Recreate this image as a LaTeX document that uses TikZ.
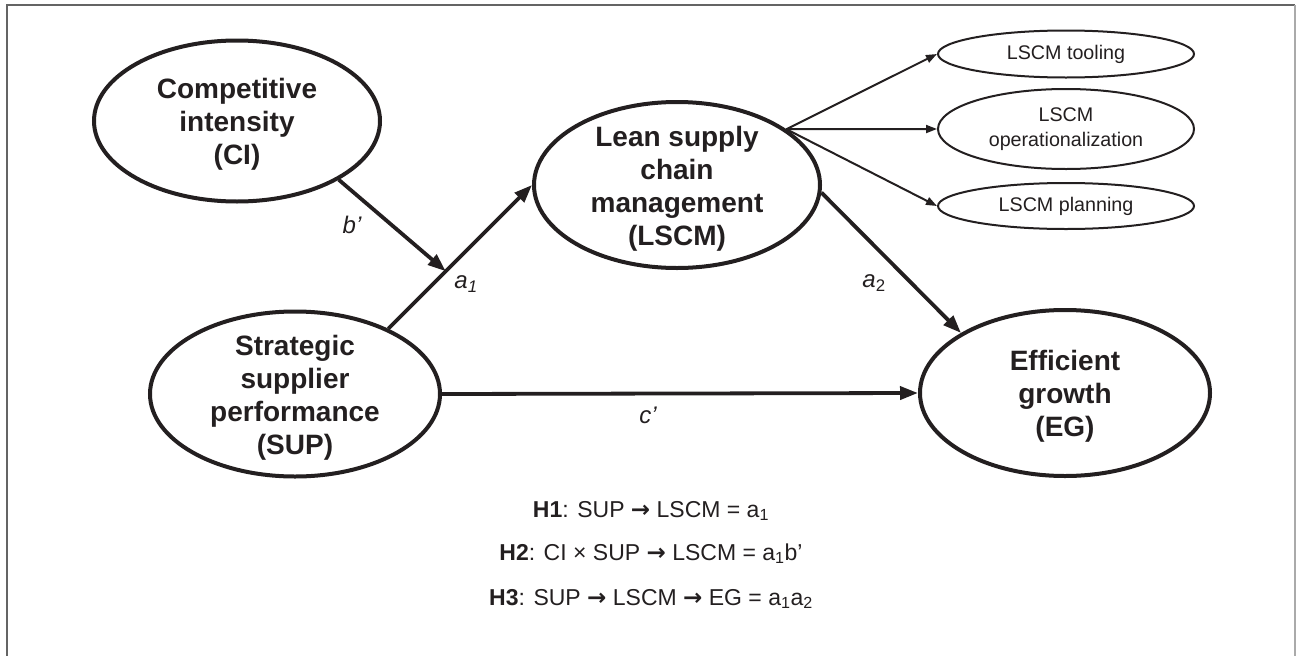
\documentclass[tikz,border=0pt]{standalone}
\usepackage{fontspec}
\setmainfont{Liberation Sans}
\newfontfamily\arrowfont{DejaVu Sans}
\newcommand{\harr}{{\arrowfont\bfseries →}}
\usetikzlibrary{shapes.geometric,arrows.meta}
\definecolor{ink}{RGB}{35,31,32}
\definecolor{framedark}{RGB}{100,100,100}
\definecolor{framelight}{RGB}{170,170,170}
\begin{document}
\begin{tikzpicture}[x=1pt,y=-1pt,
  big/.style={ellipse,draw=ink,line width=4pt,inner sep=0pt},
  bigtext/.style={align=center,text=ink,inner sep=0pt,font=\fontsize{28}{33}\selectfont\bfseries},
  small/.style={ellipse,draw=ink,line width=2pt,inner sep=0pt,minimum width=256pt,align=center,text=ink,font=\fontsize{19.7}{25}\selectfont},
  thickarrow/.style={draw=ink,line width=3.8pt,-{Triangle[length=18pt,width=13pt]}},
  thinarrow/.style={draw=ink,line width=2pt,-{Triangle[length=11pt,width=8pt]}},
  lbl/.style={text=ink,inner sep=0pt,font=\fontsize{24}{28}\selectfont\itshape},
  hyp/.style={anchor=base,text=ink,inner sep=0pt,font=\fontsize{23}{28}\selectfont}]
\useasboundingbox (0,0) rectangle (1296,656);
% frame
\draw[line width=2pt,framedark] (7,700) -- (7,5) -- (1295,5);
\draw[line width=1.5pt,framelight] (1295,5) -- (1295,700);

% main constructs
\node[big,minimum width=286pt,minimum height=161pt] (ci) at (237,121) {};
\node[bigtext] (ci-t) at (237,124) {Competitive\\intensity\\(CI)};
\node[big,minimum width=290pt,minimum height=165pt] (sup) at (295,394) {};
\node[bigtext] (sup-t) at (295,398) {Strategic\\supplier\\performance\\(SUP)};
\node[big,minimum width=286pt,minimum height=166pt] (lscm) at (677,185) {};
\node[bigtext] (lscm-t) at (677,189) {Lean supply\\chain\\management\\(LSCM)};
\node[big,minimum width=290pt,minimum height=166pt] (eg) at (1065,393) {};
\node[bigtext] (eg-t) at (1065,396) {Efficient\\growth\\(EG)};

% dimensions
\node[small,minimum height=47pt] (tool) at (1066,54) {LSCM tooling};
\node[small,minimum height=80pt] (op) at (1066,129) {LSCM\\operationalization};
\node[small,minimum height=46pt] (plan) at (1066,206) {LSCM planning};

% paths
\path (sup.35) -- (lscm.180) coordinate[pos=0.4] (m);
\draw[thickarrow] (sup.35) -- (lscm.180);
\draw[thickarrow] (ci.-30) -- (m);
\draw[thickarrow] (lscm.-3) -- (eg.150);
\draw[thickarrow] (sup.0) -- (eg.180);
\draw[thinarrow] (lscm.27) -- (tool.west);
\draw[thinarrow] (lscm.27) -- (op.west);
\draw[thinarrow] (lscm.27) -- (plan.west);

% path labels
\node[lbl] (lb) at (352,225) {b’};
\node[lbl] (la1) at (466,284) {a\textsubscript{1}};
\node[lbl] (la2) at (874,283) {a\textsubscript{\upshape 2}};
\node[lbl] (lc) at (648,415) {c’};

% hypotheses
\node[hyp] (h1) at (651,517) {\textbf{H1}: SUP \harr{} LSCM = a\textsubscript{1}};
\node[hyp] (h2) at (651,560) {\textbf{H2}: CI × SUP \harr{} LSCM = a\textsubscript{1}b’};
\node[hyp] (h3) at (651,605) {\textbf{H3}: SUP \harr{} LSCM \harr{} EG = a\textsubscript{1}a\textsubscript{2}};
\end{tikzpicture}
\end{document}
